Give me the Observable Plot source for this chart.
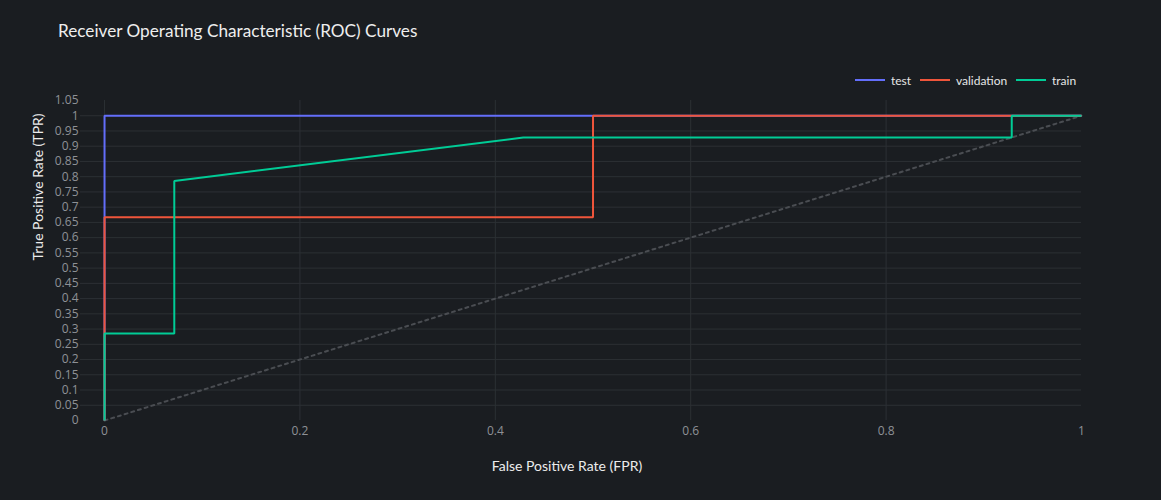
<!DOCTYPE html>
<html>
<head>
<meta charset="utf-8">
<script src="https://cdn.jsdelivr.net/npm/d3@7"></script>
<script src="https://cdn.jsdelivr.net/npm/@observablehq/plot@0.6"></script>
<style>
  html, body { margin: 0; padding: 0; background: #1a1d21; }
  #wrap { position: relative; width: 1161px; height: 500px; background: #1a1d21; overflow: hidden; }
  #title { position: absolute; left: 58px; top: 20px; font-family: Lato, sans-serif; font-size: 17.2px; color: #eeeeee; white-space: nowrap; }
  .leg { position: absolute; top: 72px; height: 16px; display: flex; align-items: center; font-family: Lato, sans-serif; font-size: 12px; color: #e6e6e6; white-space: nowrap; }
  .leg .sw { width: 30px; height: 2px; margin-right: 6px; }
</style>
</head>
<body>
<div id="wrap">
  <div id="title">Receiver Operating Characteristic (ROC) Curves</div>
  <div id="legend"></div>
</div>
<script>
const seriesNames = ["test", "validation", "train"];
const seriesColors = ["#636efa", "#ef553b", "#00cc96"];

const testFPR = [0, 0, 1];
const testTPR = [0, 1, 1];
const validationFPR = [0, 0, 0.5, 0.5, 1];
const validationTPR = [0, 0.6667, 0.6667, 1, 1];
const trainFPR = [0, 0, 0.0714, 0.0714, 0.4286, 0.9286, 0.9286, 1];
const trainTPR = [0, 0.2857, 0.2857, 0.7857, 0.9286, 0.9286, 1, 1];

const chanceFPR = [0, 1];
const chanceTPR = [0, 1];

const xTicks = [0, 0.2, 0.4, 0.6, 0.8, 1];
const yTicks = [0, 0.05, 0.1, 0.15, 0.2, 0.25, 0.3, 0.35, 0.4, 0.45, 0.5, 0.55, 0.6, 0.65, 0.7, 0.75, 0.8, 0.85, 0.9, 0.95, 1, 1.05];

const xLabel = "False Positive Rate (FPR)";
const yLabel = "True Positive Rate (TPR)";

const rows = [];
[[testFPR, testTPR], [validationFPR, validationTPR], [trainFPR, trainTPR]].forEach(([xs, ys], i) => {
  xs.forEach((x, j) => rows.push({fpr: x, tpr: ys[j], series: seriesNames[i]}));
});
const chance = chanceFPR.map((x, i) => ({fpr: x, tpr: chanceTPR[i]}));

const fmt = d => String(d);

const chart = Plot.plot({
  width: 1161,
  height: 500,
  marginLeft: 80,
  marginRight: 80,
  marginTop: 100,
  marginBottom: 80,
  style: {background: "transparent", color: "#8e9196", fontFamily: "'Open Sans', sans-serif", fontSize: "12px"},
  x: {domain: [-0.0246, 1]},
  y: {domain: [0, 1.05]},
  color: {domain: seriesNames, range: seriesColors},
  marks: [
    Plot.gridY(yTicks.filter(t => t > 0 && t < 1.05), {stroke: "#2c3034", strokeOpacity: 1, strokeWidth: 1}),
    Plot.gridX(xTicks.filter(t => t < 1), {stroke: "#2c3034", strokeOpacity: 1, strokeWidth: 1}),
    Plot.axisX({ticks: xTicks, tickFormat: fmt, tickSize: 0, tickPadding: 6, fontSize: 12, label: null}),
    Plot.axisY({ticks: yTicks, tickFormat: fmt, tickSize: 0, tickPadding: 2, fontSize: 12, label: null}),
    Plot.line(chance, {x: "fpr", y: "tpr", stroke: "#4a4d52", strokeWidth: 2, strokeDasharray: "3,4"}),
    Plot.line(rows, {x: "fpr", y: "tpr", z: "series", stroke: "series", strokeWidth: 2, strokeLinejoin: "miter", strokeLinecap: "butt"}),
    Plot.text([xLabel], {frameAnchor: "bottom", dy: 46, dx: -14, text: d => d, fill: "#ececec", fontSize: 14, fontFamily: "Lato, sans-serif", lineAnchor: "middle"}),
    Plot.text([yLabel], {frameAnchor: "left", dx: -42, text: d => d, fill: "#ececec", fontSize: 14, fontFamily: "Lato, sans-serif", rotate: -90, lineAnchor: "middle"})
  ]
});
document.getElementById("wrap").appendChild(chart);
chart.style.position = "absolute";
chart.style.left = "0px";
chart.style.top = "0px";

const legendLefts = [855, 920, 1016];
const legend = document.getElementById("legend");
seriesNames.forEach((name, i) => {
  const item = document.createElement("div");
  item.className = "leg";
  item.style.left = legendLefts[i] + "px";
  const sw = document.createElement("div");
  sw.className = "sw";
  sw.style.background = seriesColors[i];
  const tx = document.createElement("span");
  tx.textContent = name;
  item.appendChild(sw);
  item.appendChild(tx);
  legend.appendChild(item);
});
</script>
</body>
</html>
